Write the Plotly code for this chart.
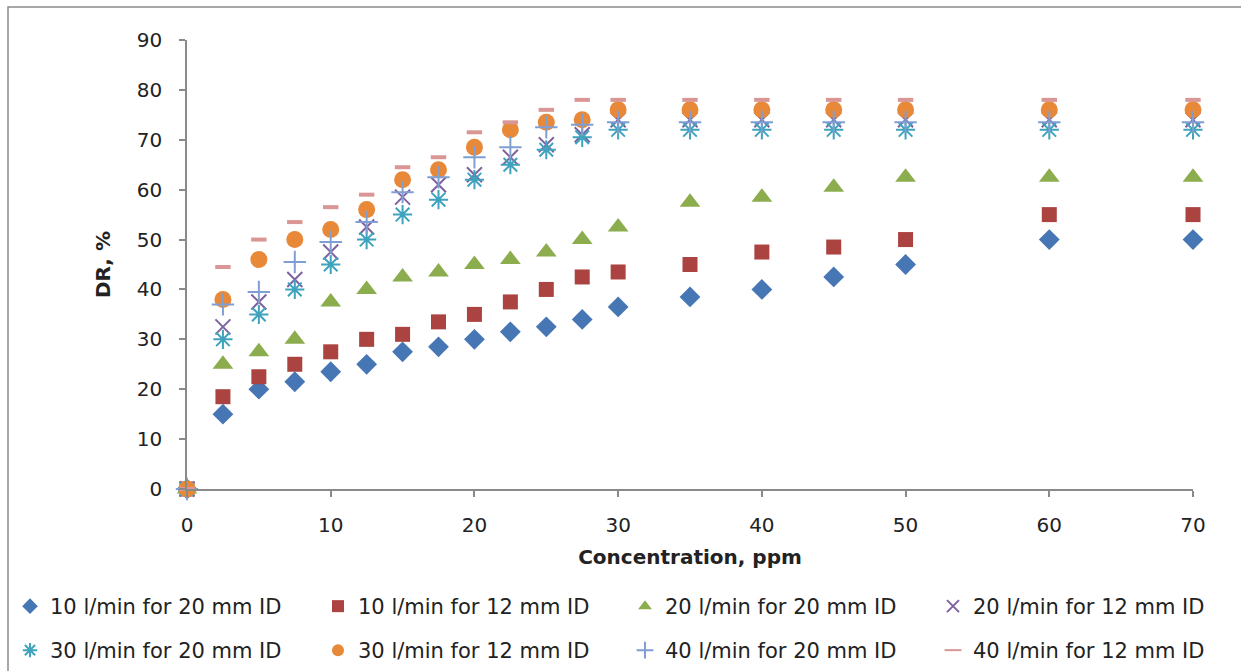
import plotly.graph_objects as go

conc = [0, 2.5, 5, 7.5, 10, 12.5, 15, 17.5, 20, 22.5, 25, 27.5, 30, 35, 40, 45, 50, 60, 70]

s10_20 = [0, 15, 20, 21.5, 23.5, 25, 27.5, 28.5, 30, 31.5, 32.5, 34, 36.5, 38.5, 40, 42.5, 45, 50, 50]
s10_12 = [0, 18.5, 22.5, 25, 27.5, 30, 31, 33.5, 35, 37.5, 40, 42.5, 43.5, 45, 47.5, 48.5, 50, 55, 55]
s20_20 = [0, 25, 27.5, 30, 37.5, 40, 42.5, 43.5, 45, 46, 47.5, 50, 52.5, 57.5, 58.5, 60.5, 62.5, 62.5, 62.5]
s20_12 = [0, 32.5, 37.5, 42, 47.5, 52.5, 58.5, 61, 63, 66.5, 69, 71, 74, 74, 74, 74, 74, 74, 74]
s30_20 = [0, 30, 35, 40, 45, 50, 55, 58, 62, 65, 68, 70.5, 72, 72, 72, 72, 72, 72, 72]
s30_12 = [0, 38, 46, 50, 52, 56, 62, 64, 68.5, 72, 73.5, 74, 76, 76, 76, 76, 76, 76, 76]
s40_20 = [0, 37, 39.5, 45.5, 49.5, 53.5, 59.5, 62.5, 66.5, 68.5, 72.5, 73, 73.5, 73.5, 73.5, 73.5, 73.5, 73.5, 73.5]
s40_12 = [0, 44.5, 50, 53.5, 56.5, 59, 64.5, 66.5, 71.5, 73.5, 76, 78, 78, 78, 78, 78, 78, 78, 78]

names = [
    "10 l/min for 20 mm ID", "10 l/min for 12 mm ID",
    "20 l/min for 20 mm ID", "20 l/min for 12 mm ID",
    "30 l/min for 20 mm ID", "30 l/min for 12 mm ID",
    "40 l/min for 20 mm ID", "40 l/min for 12 mm ID",
]
series = [s10_20, s10_12, s20_20, s20_12, s30_20, s30_12, s40_20, s40_12]

styles = [
    dict(symbol="diamond", size=16, color="#4676B3", line=dict(width=0)),
    dict(symbol="square", size=15, color="#AB4341", line=dict(width=0)),
    dict(symbol="triangle-up", size=18, color="#8CAD4E", line=dict(width=0)),
    dict(symbol="x-thin-open", size=15, color="#7E62A1", line=dict(width=2, color="#7E62A1")),
    dict(symbol="asterisk-open", size=16, color="#3FA3BE", line=dict(width=2, color="#3FA3BE")),
    dict(symbol="circle", size=17, color="#E8893A", line=dict(width=0)),
    dict(symbol="cross-thin-open", size=16, color="#7F9FD3", line=dict(width=2, color="#7F9FD3")),
    dict(symbol="line-ew-open", size=11, color="#D99694", line=dict(width=4, color="#D99694")),
]

FONT = "DejaVu Sans"
L, R, T, B = 187, 48, 40, 182
W, H = 1241, 671
pw, ph = W - L - R, H - T - B


def px_x(p):
    return (p - L) / pw


def px_y(p):
    return (H - B - p) / ph


legend_ids = ["legend"] + ["legend%d" % k for k in range(2, 9)]
col_left = [10, 318, 625, 933]
row_top = [586, 630]

fig = go.Figure()
for i, (nm, ys, st) in enumerate(zip(names, series, styles)):
    fig.add_trace(go.Scatter(
        x=conc, y=ys, mode="markers", name=nm, marker=st,
        cliponaxis=False, legend=legend_ids[i], showlegend=True,
    ))

legend_layouts = {}
for i, lid in enumerate(legend_ids):
    legend_layouts[lid] = dict(
        orientation="h",
        x=px_x(col_left[i % 4]), y=px_y(row_top[i // 4]),
        xanchor="left", yanchor="top",
        font=dict(size=21, family=FONT, color="#222"),
        itemsizing="constant", bgcolor="rgba(0,0,0,0)",
    )

fig.update_layout(
    width=W, height=H,
    showlegend=True,
    margin=dict(l=L, r=R, t=T, b=B, autoexpand=False),
    paper_bgcolor="white", plot_bgcolor="white",
    font=dict(family=FONT, color="#222222"),
    xaxis=dict(
        range=[0, 70], dtick=10, tick0=0,
        showgrid=False, zeroline=False,
        showline=True, linecolor="#8A8A8A", linewidth=1.5,
        ticks="outside", ticklen=6, tickcolor="#8A8A8A", tickwidth=1.5,
        tickfont=dict(size=20, family=FONT, color="#222"),
        ticklabelstandoff=11,
        title=dict(text="<b>Concentration, ppm</b>", font=dict(size=20, family=FONT, color="#222"), standoff=14),
        automargin=False,
    ),
    yaxis=dict(
        range=[0, 90], dtick=10, tick0=0,
        showgrid=False, zeroline=False,
        showline=True, linecolor="#8A8A8A", linewidth=1.5,
        ticks="outside", ticklen=6, tickcolor="#8A8A8A", tickwidth=1.5,
        tickfont=dict(size=20, family=FONT, color="#222"),
        ticklabelstandoff=13,
        title=dict(text="<b>DR, %</b>", font=dict(size=20, family=FONT, color="#222"), standoff=21),
        automargin=False,
    ),
    shapes=[dict(
        type="rect", xref="paper", yref="paper",
        x0=px_x(8), x1=px_x(1250), y0=px_y(7), y1=px_y(690),
        line=dict(color="#8A8A8A", width=1.5), fillcolor="rgba(0,0,0,0)", layer="below",
    )],
    **legend_layouts,
)

fig.write_html("out.html")
